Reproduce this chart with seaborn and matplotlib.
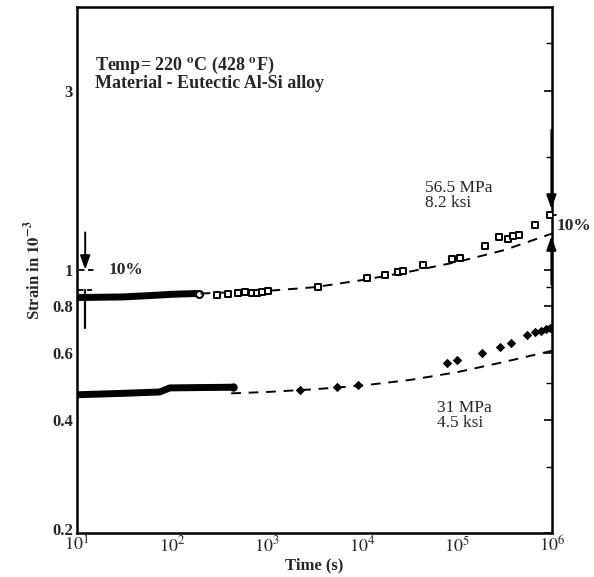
import matplotlib
matplotlib.use("Agg")
import matplotlib.pyplot as plt
import matplotlib.transforms as mtransforms
import seaborn as sns
import pandas as pd
import numpy as np
from matplotlib.ticker import FixedLocator, FixedFormatter, NullFormatter

# ---------------- data ----------------
hi_t = [295, 389, 490, 589, 692, 776, 891, 1023, 3470, 11220, 17380, 23990, 26920,
        43650, 89130, 107200, 195000, 275400, 346700, 389000, 446700, 660700, 955000]
hi_s = [0.859, 0.864, 0.868, 0.873, 0.868, 0.870, 0.873, 0.878, 0.900, 0.952, 0.968, 0.988, 0.994,
        1.03, 1.07, 1.077, 1.16, 1.226, 1.21, 1.23, 1.24, 1.32, 1.40]

lo_t = [2239, 5495, 9120, 77620, 100000, 182000, 281800, 371500, 549500, 660700, 758600, 871000, 955000]
lo_s = [0.479, 0.489, 0.494, 0.567, 0.578, 0.603, 0.626, 0.641, 0.671, 0.685, 0.689, 0.696, 0.702]

hi_band_t = [10, 30, 63, 100, 180]
hi_band_s = [0.845, 0.848, 0.856, 0.862, 0.866]
lo_band_t = [10, 30, 74, 95, 200, 420]
lo_band_s = [0.466, 0.470, 0.474, 0.486, 0.487, 0.488]

hi_fit_t = [200, 1000, 3160, 10000, 31600, 100000, 316000, 1000000]
hi_fit_s = [0.866, 0.880, 0.900, 0.940, 0.990, 1.050, 1.130, 1.250]
lo_fit_t = [420, 1000, 3160, 10000, 31600, 100000, 316000, 1000000]
lo_fit_s = [0.470, 0.474, 0.482, 0.493, 0.510, 0.535, 0.570, 0.610]

y_tick_vals = [0.2, 0.4, 0.6, 0.8, 1, 3]
y_tick_labels = ["0.2", "0.4", "0.6", "0.8", "1", "3"]
y_minor_vals = [0.3, 0.5, 0.7, 0.9, 2, 4]
x_tick_vals = [1e1, 1e2, 1e3, 1e4, 1e5, 1e6]
x_tick_labels = [r"$10^{1}$", r"$10^{2}$", r"$10^{3}$", r"$10^{4}$", r"$10^{5}$", r"$10^{6}$"]

# ---------------- style ----------------
sns.set_theme(style="white")
plt.rcParams["font.family"] = ["Liberation Serif", "DejaVu Serif"]
plt.rcParams["mathtext.fontset"] = "stix"
plt.rcParams["axes.edgecolor"] = "black"
plt.rcParams["axes.linewidth"] = 1.8

fig = plt.figure(figsize=(5.94, 5.77), dpi=100)
ax = fig.add_axes([0.1296, 0.0763, 0.7997, 0.9115])

hi_df = pd.DataFrame({"t": hi_t, "s": hi_s})
lo_df = pd.DataFrame({"t": lo_t, "s": lo_s})
hib = pd.DataFrame({"t": hi_band_t, "s": hi_band_s})
lob = pd.DataFrame({"t": lo_band_t, "s": lo_band_s})
hif = pd.DataFrame({"t": hi_fit_t, "s": hi_fit_s})
lof = pd.DataFrame({"t": lo_fit_t, "s": lo_fit_s})

ax.set_xscale("log")
ax.set_yscale("log")

# dense early data bands
sns.lineplot(data=hib, x="t", y="s", ax=ax, color="black", lw=5, sort=False,
             solid_capstyle="round")
sns.lineplot(data=lob, x="t", y="s", ax=ax, color="black", lw=5, sort=False,
             solid_capstyle="round")
ax.plot([hi_band_t[-1] * 1.08], [hi_band_s[-1]], marker="o", ms=5, mfc="white",
        mec="black", mew=1.5)
ax.plot([lo_band_t[-1] * 1.05], [lo_band_s[-1]], marker="o", ms=5, mfc="black",
        mec="black")

# fitted dashed curves
sns.lineplot(data=hif, x="t", y="s", ax=ax, color="black", lw=1.4, dashes=False,
             linestyle=(0, (5, 4)))
sns.lineplot(data=lof, x="t", y="s", ax=ax, color="black", lw=1.4, dashes=False,
             linestyle=(0, (5, 4)))

# measured points
sns.scatterplot(data=hi_df, x="t", y="s", ax=ax, marker="s", s=24,
                facecolor="white", edgecolor="black", linewidth=1.4, zorder=4)
sns.scatterplot(data=lo_df, x="t", y="s", ax=ax, marker="D", s=16,
                color="black", edgecolor="black", linewidth=0.8, zorder=4)

ax.set_xlim(10, 1e6)
ax.set_ylim(0.2, 5.0)

ax.xaxis.set_major_locator(FixedLocator(x_tick_vals))
ax.xaxis.set_major_formatter(FixedFormatter(x_tick_labels))
ax.xaxis.set_minor_formatter(NullFormatter())
ax.yaxis.set_major_locator(FixedLocator(y_tick_vals))
ax.yaxis.set_major_formatter(FixedFormatter(y_tick_labels))
ax.yaxis.set_minor_locator(FixedLocator(y_minor_vals))
ax.yaxis.set_minor_formatter(NullFormatter())

ax.tick_params(which="both", direction="in", color="black", top=False, right=True)
ax.tick_params(which="major", length=6, width=1.2, labelsize=13, pad=3)
ax.tick_params(which="minor", length=4, width=1.0)
ax.tick_params(axis="y", which="both", right=True)
ax.tick_params(axis="y", which="major", labelsize=12)
ax.tick_params(axis="x", which="major", pad=2)
fig.canvas.draw()
for lbl in ax.get_yticklabels():
    lbl.set_fontweight("bold")
ylabs = ax.get_yticklabels()
ylabs[0].set_transform(ylabs[0].get_transform() +
                       mtransforms.ScaledTranslation(0, 4 / 100, fig.dpi_scale_trans))

ax.set_xlabel("Time (s)", fontweight="bold", fontsize=12, labelpad=1)
ax.set_ylabel(r"Strain in $\mathbf{10^{-3}}$", fontweight="bold", fontsize=12, labelpad=6)

# annotations
ax.text(15.5, 3.72, "Temp= 220 $^\\mathbf{o}$C (428 $^\\mathbf{o}$F)\nMaterial - Eutectic Al-Si alloy",
        fontsize=13, fontweight="bold", va="top", ha="left", linespacing=0.92)
ax.text(4.6e4, 1.74, "56.5 MPa\n8.2 ksi", fontsize=12.5, va="top", ha="left", linespacing=0.92)
ax.text(6.2e4, 0.452, "31 MPa\n4.5 ksi", fontsize=12.5, va="top", ha="left", linespacing=0.92)
ax.text(21.5, 1.0, "10%", fontsize=12.5, fontweight="bold", va="center", ha="left")
ax.text(1.12e6, 1.31, "10%", fontsize=12.5, fontweight="bold", va="center", ha="left",
        clip_on=False)

# left 10% marker
ax.annotate("", xy=(12.2, 0.985), xytext=(12.2, 1.28),
            arrowprops=dict(arrowstyle="-|>,head_length=0.7,head_width=0.25",
                            color="black", lw=1.4))
ax.plot([10.5, 15.5], [1.0, 1.0], color="black", lw=1.3, linestyle=(0, (3, 2)))
ax.plot([12.2, 12.2], [0.70, 0.885], color="black", lw=1.6)
ax.plot([10.3, 14.5], [0.885, 0.885], color="black", lw=1.3, linestyle=(0, (3, 2)))

# right 10% marker
ax.annotate("", xy=(0.985e6, 1.43), xytext=(0.985e6, 2.4),
            arrowprops=dict(arrowstyle="-|>,head_length=0.7,head_width=0.25",
                            color="black", lw=1.4), annotation_clip=False)
ax.annotate("", xy=(0.985e6, 1.25), xytext=(0.985e6, 0.9),
            arrowprops=dict(arrowstyle="-|>,head_length=0.7,head_width=0.25",
                            color="black", lw=1.4), annotation_clip=False)
ax.plot([0.97e6, 1.1e6], [1.40, 1.40], color="black", lw=1.3, clip_on=False)

fig.savefig("out.png", dpi=100)
